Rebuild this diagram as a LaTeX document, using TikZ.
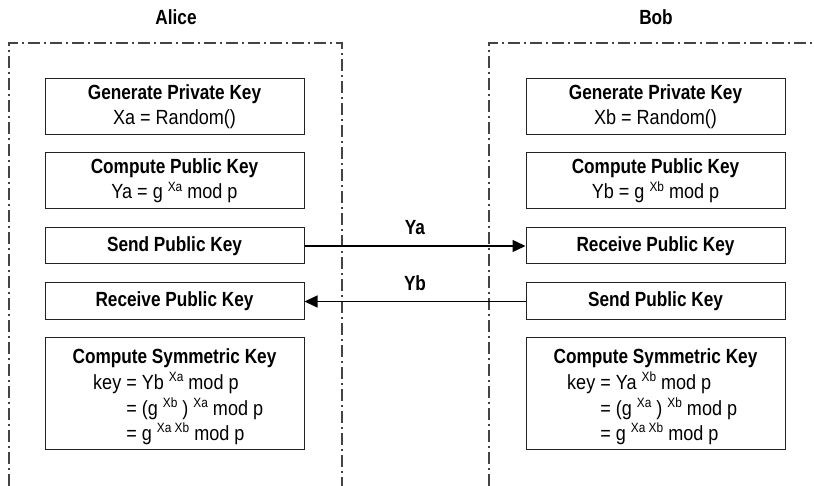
\documentclass[tikz,border=0pt]{standalone}
\usepackage{fontspec}
\setmainfont{Liberation Sans}[FakeStretch=0.88, BoldFeatures={FakeStretch=0.84}]
\usetikzlibrary{arrows.meta}
\newcommand{\supx}[1]{\raisebox{7.5pt}{\fontsize{13.5}{13.5}\selectfont #1}}
\definecolor{ln}{HTML}{222222}
\definecolor{fr}{HTML}{444444}
\begin{document}
\begin{tikzpicture}[x=1pt,y=-1pt,
 box/.style={draw=ln, line width=1pt, minimum width=259pt, inner sep=0pt, align=center, font=\fontsize{20.5}{25}\selectfont},
 frame/.style={draw=fr, line width=1.2pt, dash pattern=on 12pt off 4pt on 2pt off 4pt},
 msg/.style={draw=black, line width=1.4pt, -{Triangle[length=13pt,width=12pt]}},
 lbl/.style={inner sep=0pt, font=\fontsize{20.5}{25}\selectfont\bfseries},
 txt/.style={anchor=base west, inner sep=0pt, font=\fontsize{20.5}{25}\selectfont}]
\useasboundingbox (0,0) rectangle (814,486);
% frames
\draw[frame] (9,486) -- (9,43) -- (342,43) -- (342,486);
\draw[frame] (489,486) -- (489,43) -- (814,43);
% titles
\node[lbl] (alice) at (176,17) {Alice};
\node[lbl] (bob) at (656,17) {Bob};
% Alice boxes
\node[box, minimum height=56pt] (a1) at (174.5,107) {\textbf{Generate Private Key}\\Xa = Random()};
\node[box, minimum height=56pt] (a2) at (174.5,181) {\textbf{Compute Public Key}\\Ya = g \supx{Xa} mod p};
\node[box, minimum height=36pt] (a3) at (174.5,246) {\textbf{Send Public Key}};
\node[box, minimum height=37pt] (a4) at (174.5,301.5) {\textbf{Receive Public Key}};
\node[box, minimum height=111pt] (a5) at (174.5,393.5) {};
\node[lbl, anchor=base] (a5t) at (174.5,363) {Compute Symmetric Key};
\node[txt] (a5l1) at (93,389) {key = Yb \supx{Xa} mod p};
\node[txt] (a5l2) at (93,415) {\phantom{key }= (g \supx{Xb} ) \supx{Xa} mod p};
\node[txt] (a5l3) at (93,440) {\phantom{key }= g \supx{Xa Xb} mod p};
% Bob boxes
\node[box, minimum height=56pt] (b1) at (655.5,107) {\textbf{Generate Private Key}\\Xb = Random()};
\node[box, minimum height=56pt] (b2) at (655.5,181) {\textbf{Compute Public Key}\\Yb = g \supx{Xb} mod p};
\node[box, minimum height=36pt] (b3) at (655.5,246) {\textbf{Receive Public Key}};
\node[box, minimum height=37pt] (b4) at (655.5,301.5) {\textbf{Send Public Key}};
\node[box, minimum height=111pt] (b5) at (655.5,393.5) {};
\node[lbl, anchor=base] (b5t) at (655.5,363) {Compute Symmetric Key};
\node[txt] (b5l1) at (567,389) {key = Ya \supx{Xb} mod p};
\node[txt] (b5l2) at (567,415) {\phantom{key }= (g \supx{Xa} ) \supx{Xb} mod p};
\node[txt] (b5l3) at (567,440) {\phantom{key }= g \supx{Xa Xb} mod p};
% messages
\draw[msg] (a3.east) -- (b3.west);
\draw[msg] (b4.west) -- (a4.east);
\node[lbl] (ya) at (415,228) {Ya};
\node[lbl] (yb) at (415,283) {Yb};
\end{tikzpicture}
\end{document}
